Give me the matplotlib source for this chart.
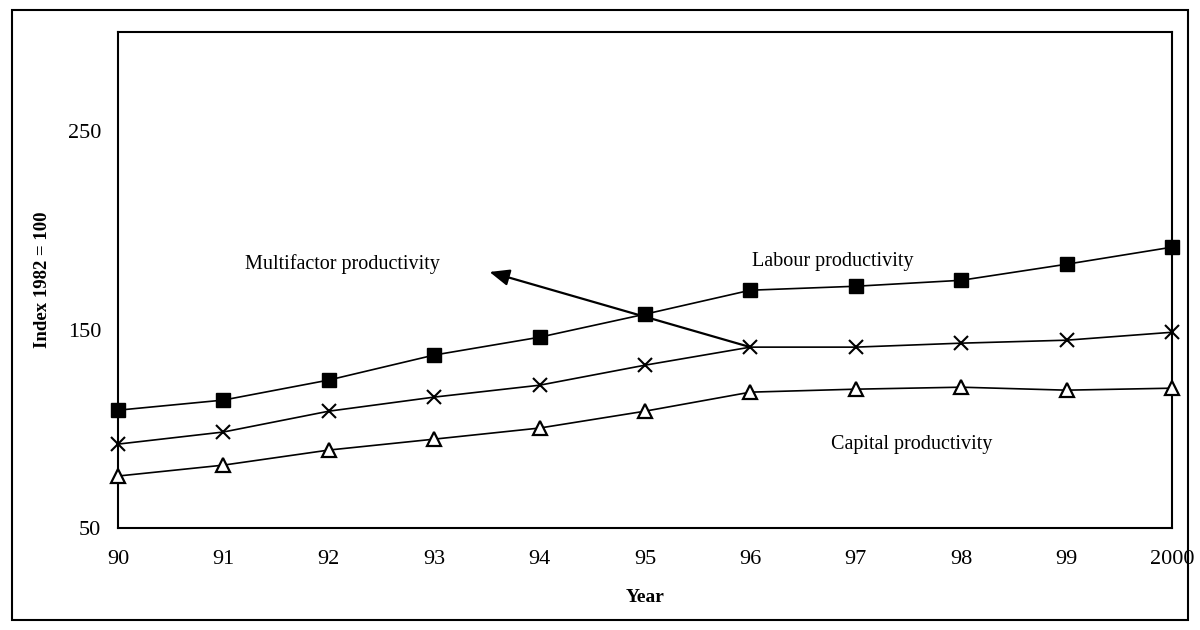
import matplotlib.pyplot as plt
from matplotlib.patches import Rectangle

# data (index 1982 = 100)
years = [90, 91, 92, 93, 94, 95, 96, 97, 98, 99, 100]
year_labels = ['90', '91', '92', '93', '94', '95', '96', '97', '98', '99', '2000']
labour = [109.4, 114.5, 124.6, 137.2, 146.2, 157.8, 169.9, 171.9, 174.9, 183.0, 191.6]
multifactor = [92.3, 98.4, 108.9, 116.0, 122.0, 132.1, 141.2, 141.2, 143.2, 144.7, 148.7]
capital = [76.2, 81.7, 89.3, 94.8, 100.4, 108.9, 118.5, 120.0, 121.0, 119.5, 120.5]
yticks = [50, 150, 250]

plt.rcParams['font.family'] = ['Liberation Serif', 'DejaVu Serif']

fig = plt.figure(figsize=(12, 6.3), dpi=100)
ax = fig.add_axes([0.0983, 0.1619, 0.8783, 0.787])

ax.plot(years, labour, color='black', lw=1.2, marker='s', ms=9.5,
        mfc='black', mec='black', clip_on=False, zorder=3)
ax.plot(years, multifactor, color='black', lw=1.2, marker='x', ms=10.5,
        mew=1.5, clip_on=False, zorder=3)
ax.plot(years, capital, color='black', lw=1.2, marker='^', ms=9.5,
        mfc='white', mec='black', mew=1.6, clip_on=False, zorder=3)

ax.set_xlim(90, 100)
ax.set_ylim(50, 300)
ax.set_xticks(years)
ax.set_xticklabels(year_labels)
ax.set_yticks(yticks)
ax.tick_params(axis='both', labelsize=16, length=0)
ax.tick_params(axis='x', pad=16)
ax.tick_params(axis='y', pad=12)
for s in ax.spines.values():
    s.set_linewidth(1.5)
    s.set_color('black')

ax.set_xlabel('Year', fontsize=14, fontweight='bold', labelpad=14)
ax.set_ylabel('Index 1982 = 100', fontsize=13.5, fontweight='bold', labelpad=12)

ax.text(91.21, 183, 'Multifactor productivity', fontsize=14.5, va='center', ha='left')
ax.text(96.02, 184.5, 'Labour productivity', fontsize=14.5, va='center', ha='left')
ax.text(96.77, 92.3, 'Capital productivity', fontsize=14.5, va='center', ha='left')

ax.annotate('', xy=(93.5, 179.5), xytext=(96.0, 141.2),
            arrowprops=dict(arrowstyle='-|>,head_length=1.2,head_width=0.5',
                            color='black', lw=1.6))

fig.patches.append(Rectangle((0.01, 0.016), 0.98, 0.968, transform=fig.transFigure,
                             fill=False, ec='black', lw=1.5))

fig.savefig('out.png', dpi=100)
